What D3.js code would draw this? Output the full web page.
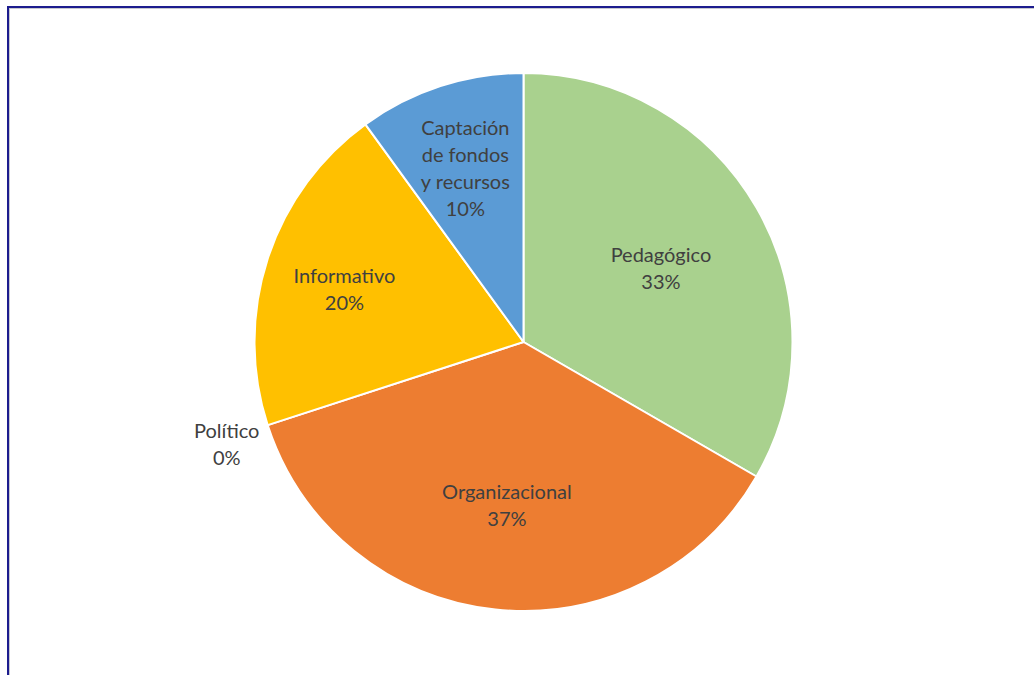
<!DOCTYPE html>
<html>
<head>
<meta charset="utf-8">
<script src="https://cdn.jsdelivr.net/npm/d3@7"></script>
<style>
  html, body { margin: 0; padding: 0; background: #ffffff; }
  svg { display: block; }
</style>
</head>
<body>
<svg id="chart" width="1034" height="675"></svg>
<script>
// Categories in drawing order, clockwise from 12 o'clock
const categories = ["Pedagógico", "Organizacional", "Político", "Informativo", "Captación de fondos y recursos"];
// Count of responses per category
const values = [10, 11, 0, 6, 3];
// Percentage labels shown on each slice
const percentLabels = ["33%", "37%", "0%", "20%", "10%"];
// Label text broken into lines
const labelLines = [["Pedagógico"], ["Organizacional"], ["Político"], ["Informativo"], ["Captación", "de fondos", "y recursos"]];
const colors = ["#A9D18E", "#ED7D31", "#A5A5A5", "#FFC000", "#5B9BD5"];

const svg = d3.select("#chart");
const W = 1034, H = 675;

// Outer frame of the chart area
svg.append("rect")
  .attr("x", 8).attr("y", 7).attr("width", W + 20).attr("height", H + 20)
  .attr("fill", "none").attr("stroke", "#1C1C8E").attr("stroke-width", 2);
svg.append("rect")
  .attr("x", 9.5).attr("y", 8.5).attr("width", W + 20).attr("height", H + 20)
  .attr("fill", "none").attr("stroke", "#c8c8d0").attr("stroke-width", 1);

const cx = 523.5, cy = 342, R = 269;
const g = svg.append("g").attr("transform", `translate(${cx},${cy})`);

const data = categories.map((c, i) => ({ name: c, value: values[i], pct: percentLabels[i], lines: labelLines[i], color: colors[i] }));

const pie = d3.pie().value(d => d.value).sort(null);
const arcs = pie(data);
const arc = d3.arc().innerRadius(0).outerRadius(R);

g.selectAll("path.slice")
  .data(arcs.filter(a => a.value > 0))
  .join("path")
  .attr("class", "slice")
  .attr("d", arc)
  .attr("fill", d => d.data.color)
  .attr("stroke", "#ffffff")
  .attr("stroke-width", 2)
  .attr("stroke-linejoin", "round");

// Label radius relative to the pie radius: wide slices closer in, narrow ones further out,
// empty slices sit just outside the rim.
function labelRadius(a) {
  const span = a.endAngle - a.startAngle;
  if (span === 0) return R * 1.16;
  return span > 1.5 ? R * 0.59 : R * 0.7;
}

const lineH = 27;
g.selectAll("text.lbl")
  .data(arcs)
  .join("text")
  .attr("class", "lbl")
  .attr("font-family", "Lato, 'Open Sans', sans-serif")
  .attr("font-size", 20)
  .attr("fill", "#404040")
  .attr("text-anchor", "middle")
  .each(function (a) {
    const mid = (a.startAngle + a.endAngle) / 2;
    const r = labelRadius(a);
    const x = Math.sin(mid) * r;
    const y = -Math.cos(mid) * r + 6;
    const lines = a.data.lines.concat([a.data.pct]);
    const y0 = y - (lines.length - 1) * lineH / 2;
    const t = d3.select(this);
    lines.forEach((ln, i) => {
      t.append("tspan")
        .attr("x", x)
        .attr("y", y0 + i * lineH)
        .attr("dy", "0.35em")
        .text(ln);
    });
  });
</script>
</body>
</html>
